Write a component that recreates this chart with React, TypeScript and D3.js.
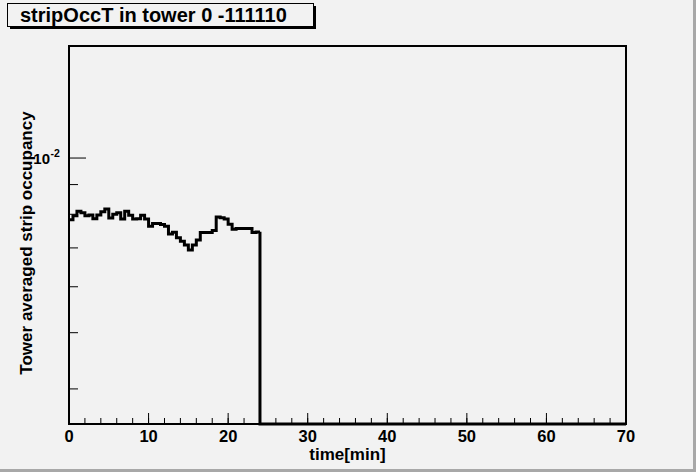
import React, { useEffect } from 'react';
import * as d3 from 'd3';

// tower averaged strip occupancy per 0.5 min bin (bins after 24 min are empty)
const binWidth = 0.5;
const occupancy = [
  0.00783, 0.00795, 0.0081, 0.00805, 0.00795, 0.00798, 0.00786, 0.00798,
  0.00808, 0.00817, 0.00788, 0.008, 0.00805, 0.00785, 0.0081, 0.00797,
  0.00785, 0.00786, 0.00797, 0.00785, 0.00763, 0.00771, 0.00771, 0.00768,
  0.00763, 0.0074, 0.00745, 0.00729, 0.00719, 0.00708, 0.00694, 0.00708,
  0.00722, 0.00744, 0.00744, 0.00744, 0.0075, 0.00791, 0.00789, 0.00785,
  0.00769, 0.00754, 0.00756, 0.00756, 0.00756, 0.00756, 0.00744, 0.00746,
];

const xDomain = [0, 70];
const xMajorTicks = [0, 10, 20, 30, 40, 50, 60, 70];
const xMinorStep = 2;
const yDomain = [0.00348, 0.0156];
const yMajorTicks = [0.01];
const yMinorTicks = [0.004, 0.005, 0.006, 0.007, 0.008, 0.009];

const title = 'stripOccT in tower 0 -111110';
const xTitle = 'time[min]';
const yTitle = 'Tower averaged strip occupancy';

const W = 696;
const H = 472;
const frame = { left: 69, right: 626, top: 46, bottom: 424 };
const font = '"Liberation Sans", Arial, Helvetica, sans-serif';

const App: React.FC = () => {
  useEffect(() => {
    document.body.style.margin = '0';
  }, []);

  const x = d3.scaleLinear().domain(xDomain).range([frame.left, frame.right]);
  const y = d3.scaleLog().domain(yDomain).range([frame.bottom, frame.top]);

  // histogram outline: steps over the filled bins, then empty bins along the bottom
  const lastEdge = occupancy.length * binWidth;
  const pts: [number, number][] = occupancy.map((v, i) => [x(i * binWidth), y(v)]);
  pts.push([x(lastEdge), y(occupancy[occupancy.length - 1])]);
  const stepLine = d3.line<[number, number]>().curve(d3.curveStepAfter)(pts) || '';
  const tail = `M${x(lastEdge)},${y(occupancy[occupancy.length - 1])}V${frame.bottom}H${x(xDomain[1])}`;

  const xMinor = d3.range(xDomain[0], xDomain[1] + 0.001, xMinorStep);
  const midY = (frame.top + frame.bottom) / 2;
  const midX = (frame.left + frame.right) / 2;

  return (
    <div style={{ position: 'absolute', left: 0, top: 0 }}>
      <svg width={W} height={H} viewBox={`0 0 ${W} ${H}`} style={{ display: 'block' }}>
        <rect x={0} y={0} width={W} height={H} fill="#f2f2f2" />
        <rect x={0} y={H - 3} width={W} height={3} fill="#a8a8a8" />
        <rect x={W - 3} y={0} width={3} height={H} fill="#a8a8a8" />

        {/* Frame */}
        <rect
          x={frame.left}
          y={frame.top}
          width={frame.right - frame.left}
          height={frame.bottom - frame.top}
          fill="none"
          stroke="#000"
          strokeWidth={2}
        />

        {/* X ticks */}
        {xMinor.map((t, i) => (
          <line key={`xm${i}`} x1={x(t)} x2={x(t)} y1={frame.bottom} y2={frame.bottom - 6} stroke="#000" strokeWidth={1} />
        ))}
        {xMajorTicks.map((t) => (
          <g key={`xt${t}`}>
            <line x1={x(t)} x2={x(t)} y1={frame.bottom} y2={frame.bottom - 11} stroke="#000" strokeWidth={1} />
            <text x={x(t)} y={442} textAnchor="middle" fontFamily={font} fontWeight="bold" fontSize={16.5} fill="#000">
              {t}
            </text>
          </g>
        ))}

        {/* Y ticks */}
        {yMinorTicks.map((t) => (
          <line key={`ym${t}`} x1={frame.left} x2={frame.left + 9} y1={y(t)} y2={y(t)} stroke="#000" strokeWidth={1} />
        ))}
        {yMajorTicks.map((t) => (
          <g key={`yt${t}`}>
            <line x1={frame.left} x2={frame.left + 17} y1={y(t)} y2={y(t)} stroke="#000" strokeWidth={1} />
            <text x={50} y={y(t) + 6} textAnchor="end" fontFamily={font} fontWeight="bold" fontSize={15} fill="#000">
              10
            </text>
            <text x={50.5} y={y(t) - 1} fontFamily={font} fontWeight="bold" fontSize={10.5} fill="#000">
              {`-${Math.round(-Math.log10(t))}`}
            </text>
          </g>
        ))}

        {/* Histogram */}
        <path d={stepLine} fill="none" stroke="#000" strokeWidth={3} strokeLinejoin="miter" />
        <path d={tail} fill="none" stroke="#000" strokeWidth={3} />

        {/* Axis titles */}
        <text x={midX} y={460} textAnchor="middle" fontFamily={font} fontWeight="bold" fontSize={17} fill="#000">
          {xTitle}
        </text>
        <text
          transform={`translate(32,${midY + 8}) rotate(-90)`}
          textAnchor="middle"
          fontFamily={font}
          fontWeight="bold"
          fontSize={17}
          fill="#000"
        >
          {yTitle}
        </text>

        {/* Title box */}
        <rect x={10} y={6} width={306} height={23} fill="#000" />
        <rect x={7.5} y={3.5} width={306} height={23} fill="#f2f2f2" stroke="#000" strokeWidth={1} />
        <text x={20} y={22} fontFamily={font} fontWeight="bold" fontSize={20} fill="#000">
          {title}
        </text>
      </svg>
    </div>
  );
};

export default App;
